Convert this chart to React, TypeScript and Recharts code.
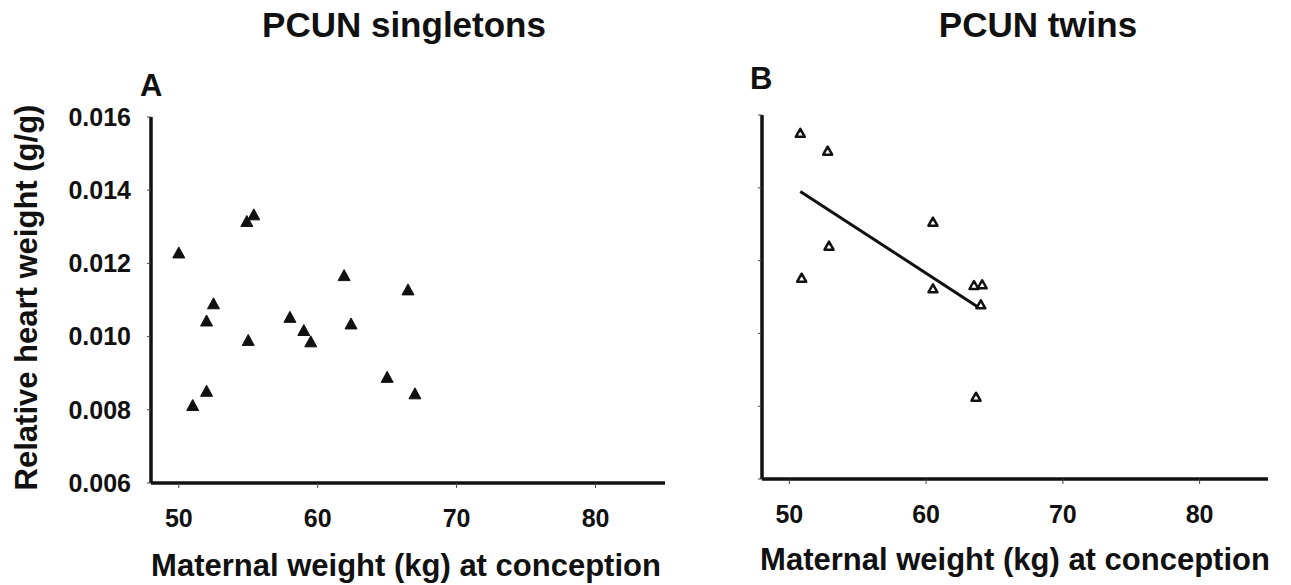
import React from "react";
import { ScatterChart, Scatter, XAxis, YAxis } from "recharts";

// panel A: PCUN singletons (maternal weight kg, relative heart weight g/g)
const singletonWeight = [50, 54.9, 55.4, 52.5, 52.0, 55.0, 52.0, 51.0, 58.0, 59.0, 59.5, 61.9, 62.4, 66.5, 65.0, 67.0];
const singletonHeart = [0.0123, 0.01316, 0.01334, 0.01091, 0.01044, 0.00991, 0.00852, 0.00813, 0.01054, 0.01018, 0.00987, 0.01168, 0.01036, 0.01129, 0.0089, 0.00845];

// panel B: PCUN twins
const twinWeight = [50.8, 52.8, 52.9, 50.9, 60.5, 60.5, 63.5, 64.1, 64.0, 63.65];
const twinHeart = [0.01551, 0.01502, 0.01241, 0.01153, 0.01307, 0.01124, 0.01133, 0.01135, 0.0108, 0.00826];

// regression line drawn in panel B
const twinTrendWeight = [50.8, 63.9];
const twinTrendHeart = [0.0139, 0.0107];

const xTicks = [50, 60, 70, 80];
const yTicks = [0.006, 0.008, 0.01, 0.012, 0.014, 0.016];

const FONT = '"Liberation Sans", Arial, sans-serif';

const singletons = singletonWeight.map((x, i) => ({ x, y: singletonHeart[i] }));
const twins = twinWeight.map((x, i) => ({ x, y: twinHeart[i] }));
const twinTrend = twinTrendWeight.map((x, i) => ({ x, y: twinTrendHeart[i] }));

const tickStyle = { fill: "#111", fontSize: 25, fontWeight: 700, fontFamily: FONT };
const axisLine = { stroke: "#111", strokeWidth: 3.5 };
const tickLine = { stroke: "#444", strokeWidth: 1 };

// triangle centred on the point the scatter gives us
function triangle(w: number, h: number, filled: boolean) {
    return (props: any) => {
        const { cx, cy } = props;
        if (cx == null || cy == null) return <g />;
        const pts = `${cx},${cy - h / 2} ${cx - w / 2},${cy + h / 2} ${cx + w / 2},${cy + h / 2}`;
        return (
            <polygon
                points={pts}
                fill={filled ? "#111" : "#fff"}
                stroke='#111'
                strokeWidth={filled ? 1 : 2.5}
                strokeLinejoin='round'
            />
        );
    };
}

function Text({ left, top, width, size, children, align = "center" }: any) {
    return (
        <div
            style={{
                position: "absolute",
                left,
                top,
                width,
                fontSize: size,
                lineHeight: `${size}px`,
                fontWeight: 700,
                textAlign: align,
                color: "#111",
                whiteSpace: "nowrap",
            }}
        >
            {children}
        </div>
    );
}

export default function App() {
    return (
        <div
            style={{
                position: "absolute",
                left: 0,
                top: 0,
                width: 1291,
                height: 585,
                background: "#fff",
                fontFamily: FONT,
                overflow: "hidden",
            }}
        >
            <div style={{ position: "absolute", left: 0, top: 0 }}>
                <ScatterChart width={700} height={585} margin={{ top: 117, right: 35, bottom: 42, left: 0 }}>
                    <XAxis
                        type='number'
                        dataKey='x'
                        domain={[48, 85]}
                        ticks={xTicks}
                        height={60}
                        axisLine={axisLine}
                        tickLine={tickLine}
                        tickSize={5}
                        tickMargin={21}
                        tick={tickStyle}
                    />
                    <YAxis
                        type='number'
                        dataKey='y'
                        domain={[0.006, 0.016]}
                        ticks={yTicks}
                        width={151}
                        axisLine={axisLine}
                        tickLine={tickLine}
                        tickSize={4}
                        tickMargin={16}
                        tick={tickStyle}
                        tickFormatter={(v: number) => v.toFixed(3)}
                    />
                    <Scatter data={singletons} shape={triangle(12, 11, true)} isAnimationActive={false} />
                </ScatterChart>
            </div>

            <div style={{ position: "absolute", left: 620, top: 0 }}>
                <ScatterChart width={671} height={585} margin={{ top: 115, right: 23, bottom: 46, left: 0 }}>
                    <XAxis
                        type='number'
                        dataKey='x'
                        domain={[48, 85]}
                        ticks={xTicks}
                        height={60}
                        axisLine={axisLine}
                        tickLine={tickLine}
                        tickSize={5}
                        tickMargin={21}
                        tick={tickStyle}
                    />
                    <YAxis
                        type='number'
                        dataKey='y'
                        domain={[0.006, 0.016]}
                        ticks={yTicks}
                        width={142}
                        axisLine={axisLine}
                        tickLine={tickLine}
                        tickSize={4}
                        tick={tickStyle}
                        tickFormatter={() => ""}
                    />
                    <Scatter
                        data={twinTrend}
                        line={{ stroke: "#111", strokeWidth: 3 }}
                        shape={() => <g />}
                        isAnimationActive={false}
                    />
                    <Scatter data={twins} shape={triangle(9, 8, false)} isAnimationActive={false} />
                </ScatterChart>
            </div>

            <Text left={104} top={7} width={600} size={35}>PCUN singletons</Text>
            <Text left={738} top={7} width={600} size={35}>PCUN twins</Text>
            <Text left={140} top={70} width={40} size={31} align='left'>A</Text>
            <Text left={750} top={63} width={40} size={31} align='left'>B</Text>

            <Text left={106} top={550} width={600} size={31}>Maternal weight (kg) at conception</Text>
            <Text left={715} top={544} width={600} size={31}>Maternal weight (kg) at conception</Text>

            <div
                style={{
                    position: "absolute",
                    left: 26 - 250,
                    top: 297 - 15.5,
                    width: 500,
                    height: 31,
                    fontSize: 31,
                    lineHeight: "31px",
                    fontWeight: 700,
                    textAlign: "center",
                    color: "#111",
                    whiteSpace: "nowrap",
                    transform: "rotate(-90deg)",
                }}
            >
                Relative heart weight (g/g)
            </div>
        </div>
    );
}
